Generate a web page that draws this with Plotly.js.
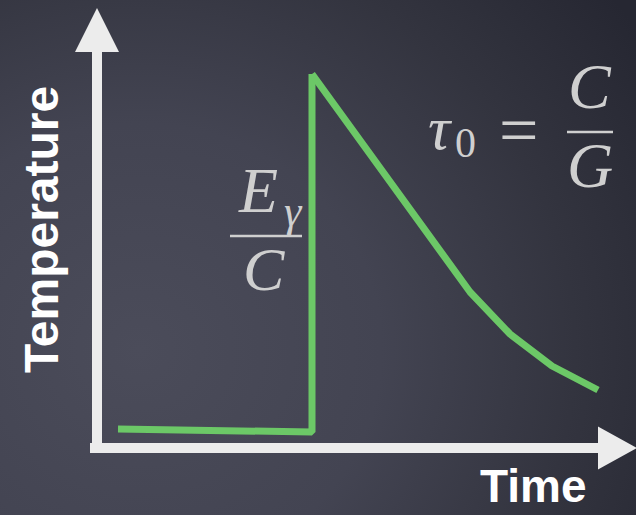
<!DOCTYPE html>
<html>
<head>
<meta charset="utf-8">
<script src="https://cdn.plot.ly/plotly-3.0.1.min.js"></script>
<style>
  html, body { margin: 0; padding: 0; }
  body {
    width: 636px; height: 515px; overflow: hidden;
    background: radial-gradient(ellipse 95% 110% at 22% 68%, #4b4c5a 0%, #434452 40%, #33343f 72%, #262732 100%);
  }
  #chart { width: 636px; height: 515px; }
  #chart .js-line { stroke-linejoin: bevel; }
</style>
</head>
<body>
<div id="chart"></div>
<script>
// Schematic temperature pulse after a photon hit: flat baseline,
// instant rise by E_gamma / C, then relaxation with time constant C / G.
const baseTime = [0.42, 4.26];
const baseTemp = [0.38, 0.32];
const riseTime = [4.26, 4.30, 4.30];
const riseTemp = [0.32, 0.32, 7.48];
const decayTime = [4.30, 7.16, 7.46, 8.26, 9.10, 10.02];
const decayTemp = [7.48, 3.52, 3.12, 2.28, 1.64, 1.16];

const xLabel = 'Time';
const yLabel = 'Temperature';

const W = 636, H = 515;
const green = '#6cc867';
const axisColor = '#ececec';
const mathColor = '#cfcfcf';
const mathFont = 'Liberation Serif';

// pixel helpers for paper-positioned text
const px = v => v / W;
const py = v => 1 - v / H;

const traces = [
  {
    x: baseTime.concat(riseTime.slice(1)), y: baseTemp.concat(riseTemp.slice(1)),
    mode: 'lines', line: { color: green, width: 7 }, hoverinfo: 'skip'
  },
  {
    x: decayTime, y: decayTemp,
    mode: 'lines', line: { color: green, width: 7 }, hoverinfo: 'skip'
  }
];

// axis arrows (axes cross at time 0, temperature 0)
const shapes = [
  { type: 'rect', xref: 'x', yref: 'y', x0: -0.1, x1: 0.1, y0: -0.1, y1: 7.95,
    fillcolor: axisColor, line: { width: 0 }, layer: 'below' },
  { type: 'rect', xref: 'x', yref: 'y', x0: -0.14, x1: 10.05, y0: -0.1, y1: 0.1,
    fillcolor: axisColor, line: { width: 0 }, layer: 'below' },
  { type: 'path', xref: 'x', yref: 'y', path: 'M -0.44 7.92 L 0 8.80 L 0.44 7.92 Z',
    fillcolor: axisColor, line: { width: 0 }, layer: 'below' },
  { type: 'path', xref: 'x', yref: 'y', path: 'M 10.02 0.43 L 10.80 0 L 10.02 -0.43 Z',
    fillcolor: axisColor, line: { width: 0 }, layer: 'below' },
  // fraction bars
  { type: 'line', xref: 'paper', yref: 'paper', x0: px(230), x1: px(302), y0: py(236), y1: py(236),
    line: { color: mathColor, width: 2.5 } },
  { type: 'line', xref: 'paper', yref: 'paper', x0: px(567), x1: px(613), y0: py(132), y1: py(132),
    line: { color: mathColor, width: 2.5 } }
];

function mathText(text, x, y, size, italic) {
  return {
    xref: 'paper', yref: 'paper', x: px(x), y: py(y),
    xanchor: 'center', yanchor: 'middle', showarrow: false,
    text: italic ? '<i>' + text + '</i>' : text,
    font: { family: mathFont, size: size, color: mathColor }
  };
}

const annotations = [
  mathText('E', 258, 190, 64, true),
  mathText('γ', 293, 211, 44, true),
  mathText('C', 264, 269, 62, true),
  mathText('τ', 440, 128, 62, true),
  mathText('0', 466, 143, 42, false),
  mathText('=', 518, 130, 70, false),
  mathText('C', 590, 86, 64, true),
  mathText('G', 590, 166, 64, true),
  {
    xref: 'paper', yref: 'paper', x: px(41), y: py(230),
    xanchor: 'center', yanchor: 'middle', textangle: -90, showarrow: false,
    text: '<b>' + yLabel + '</b>',
    font: { family: 'Liberation Sans', size: 48, color: '#ffffff' }
  },
  {
    xref: 'paper', yref: 'paper', x: px(533), y: py(486),
    xanchor: 'center', yanchor: 'middle', showarrow: false,
    text: '<b>' + xLabel + '</b>',
    font: { family: 'Liberation Sans', size: 46, color: '#ffffff' }
  }
];

const layout = {
  width: W, height: H,
  margin: { l: 0, r: 0, t: 0, b: 0, pad: 0 },
  paper_bgcolor: 'rgba(0,0,0,0)',
  plot_bgcolor: 'rgba(0,0,0,0)',
  showlegend: false,
  xaxis: { range: [-97 / 50, (W - 97) / 50], visible: false, fixedrange: true },
  yaxis: { range: [(448 - H) / 50, 448 / 50], visible: false, fixedrange: true },
  shapes: shapes,
  annotations: annotations
};

Plotly.newPlot('chart', traces, layout, { staticPlot: true, displayModeBar: false });
</script>
</body>
</html>
